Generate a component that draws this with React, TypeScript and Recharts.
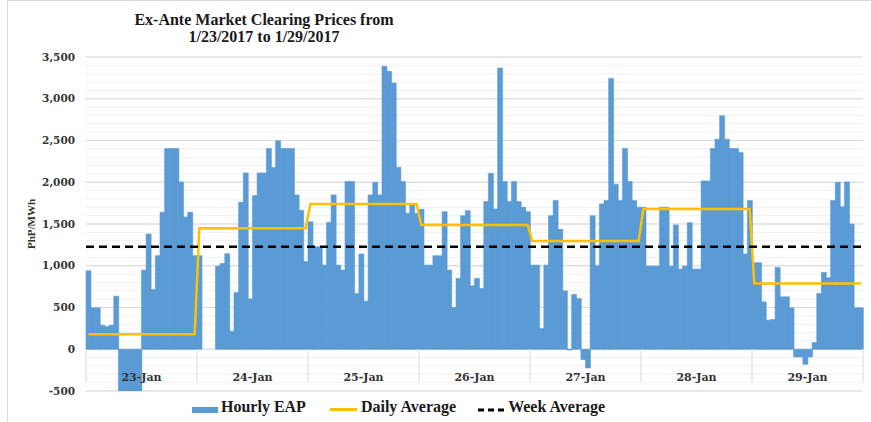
import React from 'react';
import { ComposedChart, Bar, Line, XAxis, YAxis, CartesianGrid, ReferenceLine } from 'recharts';

const DAYS = ['23-Jan', '24-Jan', '25-Jan', '26-Jan', '27-Jan', '28-Jan', '29-Jan'];

// hourly EAP per day (PhP/MWh)
const JAN23 = [940, 496, 496, 288, 272, 288, 636, -500, -500, -500, -500, -500, 948, 1380, 716, 1120, 1640, 2404, 2404, 2404, 2004, 1584, 1640, 1120];
const JAN24 = [1120, 0, 0, 0, 996, 1028, 1144, 216, 680, 1760, 2112, 604, 1840, 2112, 2112, 2404, 2176, 2496, 2404, 2404, 2404, 1848, 1664, 1050];
const JAN25 = [1528, 1228, 1228, 1008, 1520, 1848, 1008, 948, 2008, 2008, 668, 1140, 576, 1848, 2000, 1848, 3388, 3328, 3188, 2180, 2008, 1628, 1728, 1628];
const JAN26 = [1676, 1008, 1008, 1120, 1120, 1648, 948, 500, 848, 1600, 1660, 760, 848, 728, 1768, 2108, 1680, 3368, 2008, 1768, 2008, 1768, 1700, 1648];
const JAN27 = [1008, 1008, 248, 1008, 1600, 1780, 1436, 700, -10, 656, 608, -124, -224, 1600, 1000, 1740, 1780, 3244, 1976, 1780, 2404, 2008, 1780, 1700];
const JAN28 = [1700, 996, 996, 996, 1700, 1700, 996, 1488, 960, 996, 1516, 960, 960, 2016, 2016, 2404, 2516, 2796, 2516, 2404, 2404, 2356, 1140, 1780];
const JAN29 = [1036, 1036, 568, 348, 356, 980, 628, 628, 496, -92, -92, -180, -92, 80, 668, 920, 856, 1780, 2000, 1708, 2004, 1500, 496, 496];
const HOURLY = [JAN23, JAN24, JAN25, JAN26, JAN27, JAN28, JAN29];

const DAILY_AVG = [180, 1448, 1740, 1488, 1296, 1680, 788];
const WEEK_AVG = 1228;

const Y_MAJOR = [-500, 0, 500, 1000, 1500, 2000, 2500, 3000, 3500];
const Y_MINOR = Array.from({ length: 41 }, (_, i) => -500 + i * 100);

const data = HOURLY.flatMap((day, d) =>
  day.map((eap, h) => ({ idx: d * 24 + h, eap, avg: DAILY_AVG[d] }))
);

const W = 871;
const H = 422;
const MARGIN = { top: 57, right: 8, bottom: 1, left: 6 };
const X_AXIS_H = 30;
const Y_AXIS_W = 80;
const BAND = (W - MARGIN.left - MARGIN.right - Y_AXIS_W) / data.length;

const SERIF = '"Liberation Serif", "Times New Roman", serif';
const WIDE_SERIF = '"DejaVu Serif", serif';

const DayTick = ({ x, y, payload }: any) => (
  <text
    x={x - BAND / 2}
    y={y - 10}
    textAnchor="middle"
    fontFamily={WIDE_SERIF}
    fontWeight="bold"
    fontSize={11}
    fill="#333"
  >
    {DAYS[Math.floor(Number(payload.value) / 24)]}
  </text>
);

const App: React.FC = () => {
  return (
    <div style={{ position: 'absolute', left: 0, top: 0, width: W, height: H, background: '#fff' }}>
      <div
        style={{
          position: 'absolute', left: 7, top: 0, width: W - 8, height: H - 1,
          borderLeft: '1px solid #d9d9d9', borderTop: '1px solid #d9d9d9',
        }}
      />
      <div
        style={{
          position: 'absolute', left: 64, top: 11, width: 400, textAlign: 'center',
          fontFamily: SERIF, fontWeight: 'bold', fontSize: 16, lineHeight: '17px', color: '#1a1a1a',
        }}
      >
        Ex-Ante Market Clearing Prices from
        <br />
        1/23/2017 to 1/29/2017
      </div>
      <div
        style={{
          position: 'absolute', left: 31, top: 224, transform: 'translate(-50%, -50%) rotate(-90deg)',
          fontFamily: SERIF, fontWeight: 'bold', fontSize: 11, whiteSpace: 'nowrap', color: '#333',
        }}
      >
        PhP/MWh
      </div>

      <ComposedChart
        width={W}
        height={H}
        data={data}
        margin={MARGIN}
        barCategoryGap={0}
        barGap={0}
        style={{ position: 'absolute', left: 0, top: 0 }}
      >
        <CartesianGrid yAxisId="minor" vertical={false} stroke="#f0f0f0" />
        <CartesianGrid yAxisId="main" vertical={false} stroke="#d9d9d9" />
        <XAxis
          dataKey="idx"
          type="category"
          height={X_AXIS_H}
          ticks={DAYS.map((_, d) => d * 24 + 12)}
          interval={0}
          axisLine={false}
          tickLine={false}
          tickSize={0}
          tickMargin={0}
          tick={<DayTick />}
        />
        <YAxis
          yAxisId="main"
          width={Y_AXIS_W}
          domain={[-500, 3500]}
          ticks={Y_MAJOR}
          interval={0}
          allowDataOverflow
          axisLine={false}
          tickLine={false}
          tickMargin={5}
          tickFormatter={(v: number) => v.toLocaleString('en-US')}
          tick={{ fontFamily: WIDE_SERIF, fontWeight: 'bold', fontSize: 10.5, fill: '#333' }}
        />
        <YAxis yAxisId="minor" hide domain={[-500, 3500]} ticks={Y_MINOR} interval={0} allowDataOverflow />
        <Bar
          yAxisId="main"
          dataKey="eap"
          fill="#5b9bd5"
          stroke="#5b9bd5"
          strokeWidth={0.6}
          isAnimationActive={false}
        />
        {DAYS.map((_, d) => (
          <ReferenceLine
            key={d}
            yAxisId="main"
            segment={[{ x: d * 24, y: 0 }, { x: d * 24, y: -390 }]}
            position="start"
            stroke="#d9d9d9"
          />
        ))}
        <ReferenceLine
          yAxisId="main"
          segment={[{ x: data.length - 1, y: 0 }, { x: data.length - 1, y: -390 }]}
          position="end"
          stroke="#d9d9d9"
        />
        <Line
          yAxisId="main"
          type="linear"
          dataKey="avg"
          stroke="#ffc000"
          strokeWidth={2.5}
          dot={false}
          activeDot={false}
          isAnimationActive={false}
        />
        <ReferenceLine yAxisId="main" y={WEEK_AVG} stroke="#000" strokeWidth={2.5} strokeDasharray="8 5" />
      </ComposedChart>

      <div
        style={{
          position: 'absolute', left: 192, top: 399, display: 'flex', alignItems: 'flex-start',
          fontFamily: SERIF, fontWeight: 'bold', fontSize: 16, lineHeight: '16px', color: '#1a1a1a',
        }}
      >
        <div style={{ width: 26, height: 6, marginTop: 8, marginRight: 3, background: '#5b9bd5' }} />
        <span style={{ marginRight: 24 }}>Hourly EAP</span>
        <div style={{ width: 27, height: 3, marginTop: 9, marginRight: 4, background: '#ffc000' }} />
        <span style={{ marginRight: 22 }}>Daily Average</span>
        <svg width={28} height={4} style={{ marginTop: 9, marginRight: 2 }}>
          <line x1={0} y1={2} x2={28} y2={2} stroke="#000" strokeWidth={3} strokeDasharray="6 4" />
        </svg>
        <span>Week Average</span>
      </div>
    </div>
  );
};

export default App;
